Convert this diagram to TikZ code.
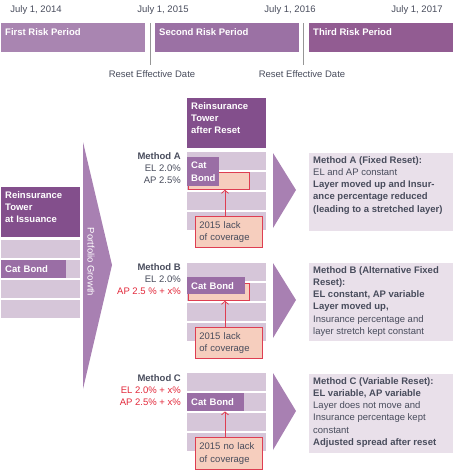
\documentclass[tikz,border=0pt]{standalone}
\usepackage{fontspec}
\setmainfont{Liberation Sans}
\usetikzlibrary{arrows.meta}
\usetikzlibrary{shapes,positioning}

\definecolor{periodA}{RGB}{169,133,177}
\definecolor{periodB}{RGB}{155,113,164}
\definecolor{periodC}{RGB}{146,92,146}
\definecolor{towerhead}{RGB}{131,79,140}
\definecolor{layer}{RGB}{214,198,217}
\definecolor{catbond}{RGB}{154,110,165}
\definecolor{bigarrow}{RGB}{168,128,178}
\definecolor{descfill}{RGB}{233,224,234}
\definecolor{lackfill}{RGB}{246,206,190}
\definecolor{lackred}{RGB}{222,62,82}
\definecolor{textgray}{RGB}{72,76,92}
\definecolor{redtext}{RGB}{226,40,58}
\definecolor{resetgray}{RGB}{150,150,150}

\newcommand{\diagfont}{\fontsize{9.5}{12.3}\selectfont}

\tikzset{
  txt/.style={font=\diagfont, inner sep=0pt, text=textgray},
  period/.style={fill=#1, minimum width=144pt, minimum height=29pt,
    anchor=north west, inner sep=0pt},
  periodtext/.style={txt, text=white, font=\diagfont\bfseries,
    anchor=north west},
  head/.style={fill=towerhead, minimum width=79pt, minimum height=50pt,
    anchor=north west, inner sep=0pt},
  headtext/.style={txt, text=white, font=\diagfont\bfseries,
    align=left, anchor=north west},
  cat/.style={fill=catbond, text=white, font=\diagfont\bfseries,
    anchor=north west, inner xsep=4pt, inner ysep=0pt, align=left},
  redbox/.style={fill=lackfill, draw=lackred, line width=0.8pt,
    minimum width=61pt, minimum height=17pt, anchor=north west, inner sep=0pt},
  callout/.style={txt, fill=lackfill, draw=lackred, line width=0.8pt,
    minimum width=67pt, minimum height=31pt, anchor=north west,
    inner xsep=4pt, text width=59pt, align=left},
  method/.style={txt, align=right, anchor=north east},
  desc/.style={fill=descfill, minimum width=144pt, anchor=north west, inner sep=0pt},
  desctext/.style={txt, align=left, anchor=north west},
  up/.style={draw=lackred, line width=0.8pt, -{Straight Barb[length=3pt,width=7pt]}}
}

\begin{document}
\begin{tikzpicture}[x=1pt,y=-1pt]
    \useasboundingbox (0,0) rectangle (453,474);

    % time line
    \node (d14) [txt] at (36,10) {July 1, 2014};
    \node (d15) [txt] at (163,10) {July 1, 2015};
    \node (d16) [txt] at (290,10) {July 1, 2016};
    \node (d17) [txt] at (417,10) {July 1, 2017};

    \node (p1) [period=periodA] at (1,23) {};
    \node (p2) [period=periodB] at (155,23) {};
    \node (p3) [period=periodC] at (309,23) {};
    \node (p1t) [periodtext] at ([shift={(4pt,-5pt)}]p1.north west) {First Risk Period};
    \node (p2t) [periodtext] at ([shift={(4pt,-5pt)}]p2.north west) {Second Risk Period};
    \node (p3t) [periodtext] at ([shift={(4pt,-5pt)}]p3.north west) {Third Risk Period};

    \coordinate (r1top) at (150,23);
    \coordinate (r1bot) at (150,65);
    \coordinate (r2top) at (303,23);
    \coordinate (r2bot) at (303,65);
    \draw[resetgray, line width=1pt] (r1top) -- (r1bot);
    \draw[resetgray, line width=1pt] (r2top) -- (r2bot);
    \node (reset1) [txt] at (152,74) {Reset Effective Date};
    \node (reset2) [txt] at (302,74) {Reset Effective Date};

    % towers
    \foreach \tx/\ty in {1/240, 187/152, 187/263, 187/373}
      \foreach \i in {0,...,3}
        \fill[layer] (\tx,\ty+20*\i) rectangle ++(79,18);

    \node (headI) [head] at (1,187) {};
    \node (headIt) [headtext] at ([shift={(4pt,-4pt)}]headI.north west)
      {Reinsurance\\Tower\\at Issuance};
    \node (catI) [cat, minimum height=18pt, text width=57pt] at (1,260) {Cat Bond};

    \node (headR) [head] at (187,98) {};
    \node (headRt) [headtext] at ([shift={(4pt,-4pt)}]headR.north west)
      {Reinsurance\\Tower\\after Reset};

    % portfolio growth
    \fill[bigarrow] (83,142) -- (112,265) -- (83,389) -- cycle;
    \node (growth) [txt, text=white, rotate=-90] at (91,262) {Portfolio Growth};

    % method A
    \node (mA) [method] at (181,152)
      {\textbf{Method A}\\EL 2.0\%\\AP 2.5\%};
    \node (redA) [redbox] at (188,172) {};
    \node (catA) [cat, minimum height=29pt, text width=24pt] at (187,157) {Cat\\Bond};
    \node (callA) [callout] at (195,216) {2015 lack\\of coverage};
    \draw[up] ([xshift=30pt]callA.north west) -- ([xshift=37pt]redA.south west);

    % method B
    \node (mB) [method] at (181,263)
      {\textbf{Method B}\\EL 2.0\%\\\textcolor{redtext}{AP 2.5 \% + x\%}};
    \node (redB) [redbox] at (188,283) {};
    \node (catB) [cat, minimum height=17pt, text width=50pt] at (187,277) {Cat Bond};
    \node (callB) [callout] at (195,327) {2015 lack\\of coverage};
    \draw[up] ([xshift=30pt]callB.north west) -- ([xshift=37pt]redB.south west);

    % method C
    \node (mC) [method] at (181,374)
      {\textbf{Method C}\\\textcolor{redtext}{EL 2.0\% + x\%}\\\textcolor{redtext}{AP 2.5\% + x\%}};
    \node (catC) [cat, minimum height=18pt, text width=49pt] at (187,393) {Cat Bond};
    \node (callC) [callout, minimum height=32pt] at (195,437) {2015 no lack\\of coverage};
    \draw[up] ([xshift=30pt]callC.north west) -- ([xshift=38pt]catC.south west);

    % arrows to the explanations
    \fill[bigarrow] (273,153) -- (296,190) -- (273,228) -- cycle;
    \fill[bigarrow] (273,263) -- (296,300) -- (273,338) -- cycle;
    \fill[bigarrow] (273,373) -- (296,411) -- (273,450) -- cycle;

    \node (descA) [desc, minimum height=78pt] at (309,153) {};
    \node (descAt) [desctext] at ([shift={(4pt,-3pt)}]descA.north west)
      {\textbf{Method A (Fixed Reset):}\\EL and AP constant\\
       \textbf{Layer moved up and Insur-}\\\textbf{ance percentage reduced}\\
       \textbf{(leading to a stretched layer)}};

    \node (descB) [desc, minimum height=78pt] at (309,263) {};
    \node (descBt) [desctext] at ([shift={(4pt,-3pt)}]descB.north west)
      {\textbf{Method B (Alternative Fixed}\\\textbf{Reset):}\\
       \textbf{EL constant, AP variable}\\\textbf{Layer moved up,}\\
       Insurance percentage and\\layer stretch kept constant};

    \node (descC) [desc, minimum height=79pt] at (309,374) {};
    \node (descCt) [desctext] at ([shift={(4pt,-3pt)}]descC.north west)
      {\textbf{Method C (Variable Reset):}\\\textbf{EL variable, AP variable}\\
       Layer does not move and\\Insurance percentage kept\\constant\\
       \textbf{Adjusted spread after reset}};
\end{tikzpicture}
\end{document}
